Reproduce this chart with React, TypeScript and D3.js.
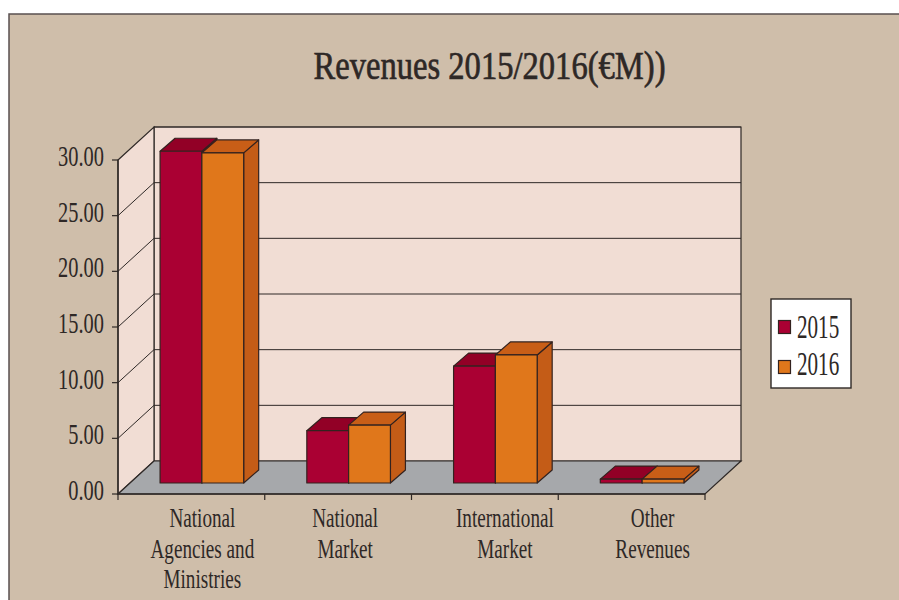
import React from "react";
import * as d3 from "d3";

const categories = [["National", "Agencies and", "Ministries"], ["National", "Market"], ["International", "Market"], ["Other", "Revenues"]];
const series2015 = [29.8, 4.7, 10.5, 0.35];
const series2016 = [29.65, 5.2, 11.5, 0.35];
const years = ["2015", "2016"];
const yTicks = [0, 5, 10, 15, 20, 25, 30];
const colors = { front: ["#aa0033", "#e0771b"], top: ["#920026", "#c85e17"], side: ["#800020", "#c45c17"] };

const FONT = "'Liberation Serif', serif";
const INK = "#2e2826";
const depthX = 36, depthY = 33;
const x = d3.scaleBand<number>().domain(d3.range(categories.length)).range([118, 705]).paddingInner(0).paddingOuter(0);
const y = d3.scaleLinear().domain([0, 30]).range([494, 160]);
const barLift = 11, barShift = 12, barW = 41.8, bdx = 15, bdy = 13;
const labelNudge = [-1, -5, 8, 9];

const poly = (p: number[][]) => d3.line()(p as [number, number][]) + "Z";

function Condensed({ x: px, y: py, size, sx = 0.78, anchor = "middle", bold = 0, children }: any) {
  return (
    <text transform={`translate(${px},${py}) scale(${sx},1)`} fontFamily={FONT} fontSize={size} fill={INK}
      stroke={bold ? INK : "none"} strokeWidth={bold} textAnchor={anchor}>{children}</text>
  );
}

function Bar({ cx, value, idx }: { cx: number; value: number; idx: number }) {
  const x0 = cx + (idx - 1) * barW + barShift - 1.5;
  const x1 = x0 + barW;
  const b = y(0) - barLift;
  const t = y(value) - barLift;
  const stroke = { stroke: "#33221f", strokeWidth: 1.2, strokeLinejoin: "round" as const };
  return (
    <g>
      <path d={poly([[x1, b], [x1 + bdx, b - bdy], [x1 + bdx, t - bdy], [x1, t]])} fill={colors.side[idx]} {...stroke} />
      <path d={poly([[x0, t], [x1, t], [x1 + bdx, t - bdy], [x0 + bdx, t - bdy]])} fill={colors.top[idx]} {...stroke} />
      <rect x={x0} y={t} width={barW} height={b - t} fill={colors.front[idx]} {...stroke} />
    </g>
  );
}

export default function App() {
  const [l, r] = x.range();
  const y0 = y(0), y30 = y(30);
  return (
    <svg width={899} height={600} style={{ position: "absolute", left: 0, top: 0, background: "#fff" }}>
      <rect x={9} y={14} width={1000} height={700} fill="#cfbeaa" stroke="#5a5050" strokeWidth={1.5} />
      <Condensed x={489.5} y={79} size={41} sx={0.795} bold={0.7}>Revenues 2015/2016(€M))</Condensed>

      <path d={poly([[l + depthX, y30 - depthY], [r + depthX, y30 - depthY], [r + depthX, y0 - depthY], [l + depthX, y0 - depthY]])} fill="#f1ddd4" stroke={INK} strokeWidth={1.2} />
      <path d={poly([[l, y30], [l + depthX, y30 - depthY], [l + depthX, y0 - depthY], [l, y0]])} fill="#f1ddd4" stroke={INK} strokeWidth={1.2} />
      <path d={poly([[l, y0], [r, y0], [r + depthX, y0 - depthY], [l + depthX, y0 - depthY]])} fill="#a6a8ab" stroke={INK} strokeWidth={1.2} />
      {yTicks.slice(1, -1).map(t => (
        <path key={t} d={`M${l},${y(t)}L${l + depthX},${y(t) - depthY}L${r + depthX},${y(t) - depthY}`} fill="none" stroke={INK} strokeWidth={1} />
      ))}
      <path d={`M${l + depthX},${y30 - depthY}H${r + depthX}`} stroke={INK} strokeWidth={1.2} />

      {categories.map((_, i) => {
        const cx = x(i)! + x.bandwidth() / 2;
        return (
          <g key={i}>
            <Bar cx={cx} value={series2015[i]} idx={0} />
            <Bar cx={cx} value={series2016[i]} idx={1} />
          </g>
        );
      })}

      <path d={`M${l},${y30}V${y0}H${r}`} fill="none" stroke={INK} strokeWidth={1.4} />
      {yTicks.map(t => (
        <g key={t}>
          <line x1={l - 6} x2={l} y1={y(t)} y2={y(t)} stroke={INK} strokeWidth={1.2} />
          <Condensed x={104} y={y(t) + 6} size={30} sx={0.68} anchor="end">{t.toFixed(2)}</Condensed>
        </g>
      ))}
      {d3.range(categories.length + 1).map(i => {
        const px = l + i * x.bandwidth();
        return <line key={i} x1={px} x2={px} y1={y0} y2={y0 + 6} stroke={INK} strokeWidth={1.2} />;
      })}
      {categories.map((lines, i) => lines.map((s, j) => (
        <Condensed key={s + j} x={x(i)! + x.bandwidth() / 2 + 12 + labelNudge[i]} y={527 + j * 30.5} size={27} sx={0.71}>{s}</Condensed>
      )))}

      <rect x={771} y={299} width={80} height={89} fill="#fff" stroke={INK} strokeWidth={1.4} />
      {years.map((yr, i) => (
        <g key={yr}>
          <rect x={778.5} y={320.5 + i * 40} width={12} height={13} fill={colors.front[i]} stroke="#33221f" strokeWidth={1.2} />
          <Condensed x={797} y={338 + i * 37} size={33} sx={0.64} anchor="start">{yr}</Condensed>
        </g>
      ))}
    </svg>
  );
}
